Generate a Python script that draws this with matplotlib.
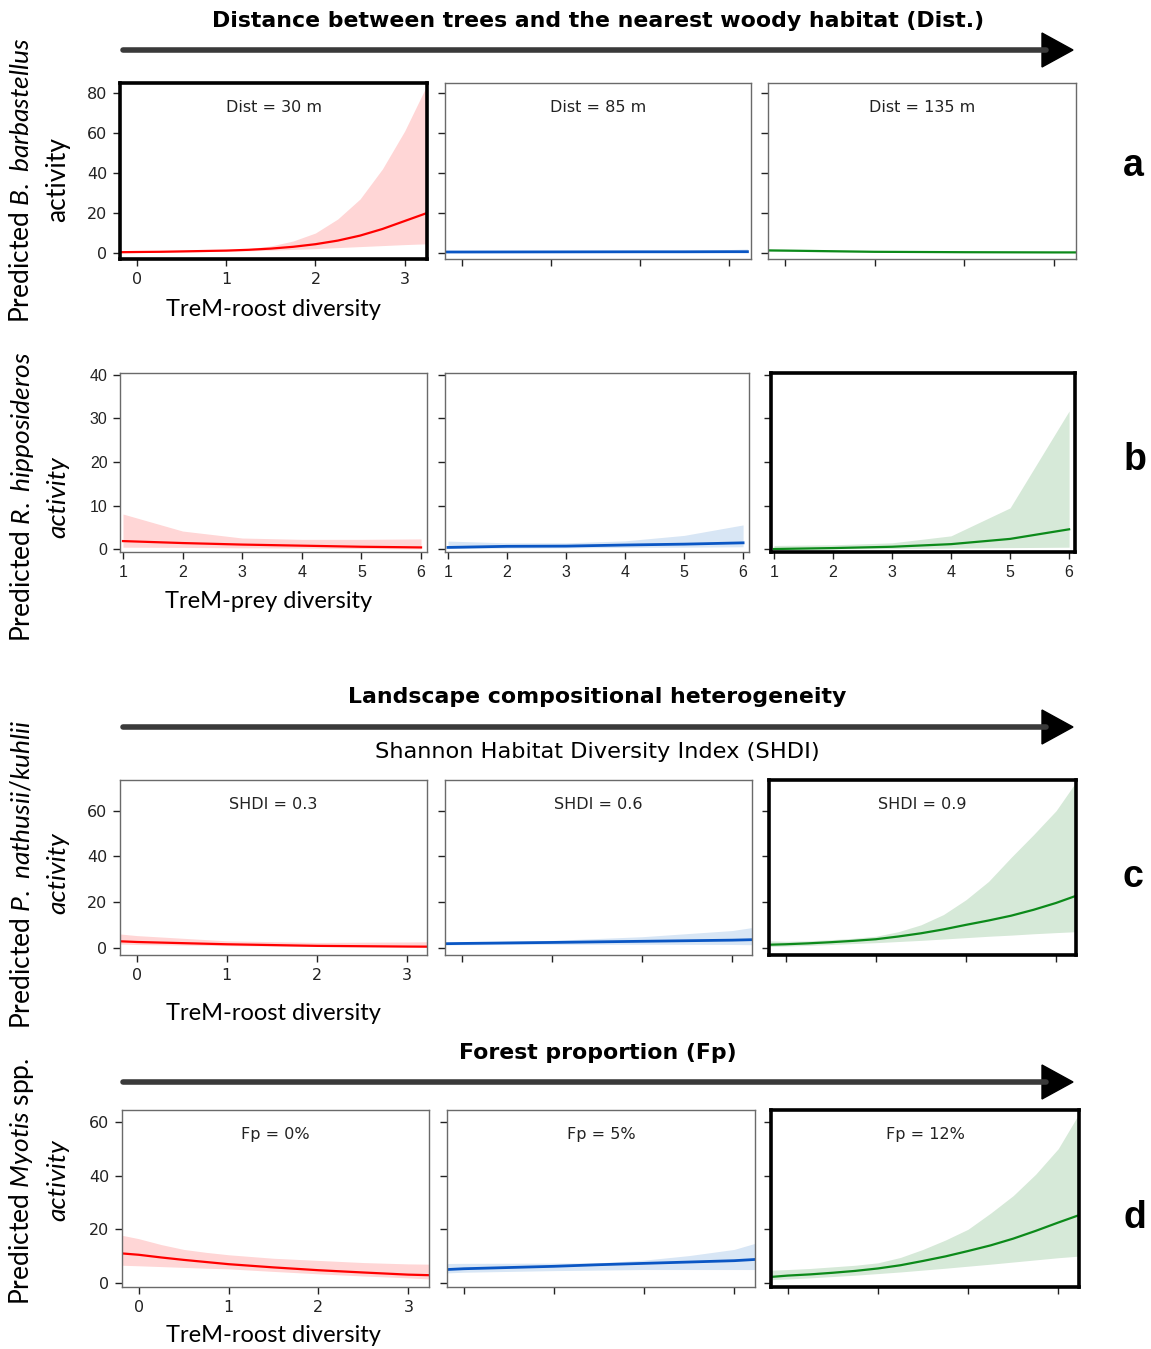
import matplotlib.pyplot as plt
from matplotlib.lines import Line2D
from matplotlib.patches import Polygon

FIG_W, FIG_H = 1151, 1349

plt.rcParams["mathtext.fontset"] = "custom"
plt.rcParams["mathtext.rm"] = "Lato"
plt.rcParams["mathtext.it"] = "Lato:italic"
plt.rcParams["mathtext.bf"] = "Lato:bold"

ROOST_TICKS = [0, 1, 2, 3]
PREY_TICKS = [1, 2, 3, 4, 5, 6]

# Row a: B. barbastellus vs TreM-roost diversity, by distance to woody habitat
A_LABELS = ["Dist = 30 m", "Dist = 85 m", "Dist = 135 m"]
A_YTICKS = [0, 20, 40, 60, 80]
A1_X = [-0.19, 0, 0.25, 0.5, 0.75, 1, 1.25, 1.5, 1.75, 2, 2.25, 2.5, 2.75, 3, 3.25]
A1_FIT = [0.4, 0.5, 0.6, 0.8, 1.0, 1.2, 1.6, 2.2, 3.1, 4.4, 6.2, 8.7, 12.0, 16.0, 20.0]
A1_UP = [0.7, 0.8, 0.9, 1.0, 1.2, 1.5, 2.2, 3.5, 6.0, 10.0, 17.0, 27.0, 42.0, 61.0, 84.0]
A1_LO = [0.1, 0.2, 0.35, 0.5, 0.7, 0.9, 1.1, 1.4, 1.8, 2.2, 2.7, 3.2, 3.7, 4.2, 4.6]
A2_X = [-0.18, 0, 1, 2, 2.5, 3, 3.21]
A2_FIT = [0.5, 0.5, 0.55, 0.6, 0.6, 0.65, 0.65]
A2_UP = [0.7, 0.7, 0.8, 1.0, 1.3, 1.7, 2.0]
A2_LO = [0.35, 0.35, 0.35, 0.3, 0.3, 0.3, 0.3]
A3_X = [-0.19, 0, 0.5, 1, 1.5, 2, 3, 3.25]
A3_FIT = [1.3, 1.2, 0.9, 0.6, 0.5, 0.4, 0.3, 0.3]
A3_UP = [1.8, 1.6, 1.2, 0.9, 0.7, 0.55, 0.45, 0.45]
A3_LO = [0.9, 0.8, 0.6, 0.4, 0.3, 0.2, 0.15, 0.15]

# Row b: R. hipposideros vs TreM-prey diversity
B_YTICKS = [0, 10, 20, 30, 40]
B_X = [1, 2, 3, 4, 5, 6]
B1_FIT = [1.9, 1.45, 1.1, 0.85, 0.6, 0.45]
B1_UP = [8.1, 4.2, 2.6, 2.3, 2.3, 2.4]
B1_LO = [0.5, 0.45, 0.35, 0.3, 0.2, 0.1]
B2_FIT = [0.45, 0.7, 0.75, 1.0, 1.2, 1.5]
B2_UP = [1.9, 1.5, 1.5, 1.95, 3.2, 5.6]
B2_LO = [0.2, 0.3, 0.35, 0.45, 0.5, 0.6]
B3_FIT = [0.08, 0.3, 0.6, 1.2, 2.4, 4.6]
B3_UP = [0.9, 1.05, 1.5, 3.1, 9.5, 31.7]
B3_LO = [0.02, 0.1, 0.2, 0.3, 0.4, 0.5]

# Row c: P. nathusii/kuhlii vs TreM-roost diversity, by SHDI
C_LABELS = ["SHDI = 0.3", "SHDI = 0.6", "SHDI = 0.9"]
C_YTICKS = [0, 20, 40, 60]
C1_X = [-0.185, 0, 1, 2, 3, 3.22]
C1_FIT = [2.8, 2.5, 1.5, 0.8, 0.5, 0.45]
C1_UP = [6.0, 5.3, 3.0, 2.3, 2.5, 2.6]
C1_LO = [1.6, 1.4, 0.9, 0.5, 0.25, 0.2]
C2_X = [-0.185, 0, 1, 2, 3, 3.22]
C2_FIT = [1.75, 1.85, 2.3, 2.8, 3.3, 3.5]
C2_UP = [2.3, 2.4, 3.2, 4.8, 7.5, 8.8]
C2_LO = [1.2, 1.3, 1.5, 1.5, 1.4, 1.3]
C3_X = [-0.185, 0, 0.25, 0.5, 0.75, 1, 1.25, 1.5, 1.75, 2, 2.25, 2.5, 2.75, 3, 3.22]
C3_FIT = [1.3, 1.5, 1.9, 2.4, 3.0, 3.7, 4.9, 6.3, 8.0, 10.0, 11.9, 14.0, 16.6, 19.6, 22.7]
C3_UP = [3.0, 2.8, 3.0, 3.5, 4.1, 5.0, 7.0, 10.0, 14.5, 21.0, 29.0, 39.5, 49.5, 60.0, 72.5]
C3_LO = [0.5, 0.7, 1.0, 1.4, 1.8, 2.2, 2.7, 3.2, 3.8, 4.4, 5.0, 5.5, 6.1, 6.6, 7.0]

# Row d: Myotis spp. vs TreM-roost diversity, by forest proportion
D_LABELS = ["Fp = 0%", "Fp = 5%", "Fp = 12%"]
D_YTICKS = [0, 20, 40, 60]
D1_X = [-0.185, 0, 0.25, 0.5, 0.75, 1, 1.5, 2, 2.5, 3, 3.23]
D1_FIT = [11.0, 10.5, 9.5, 8.6, 7.8, 7.0, 5.8, 4.75, 3.9, 3.1, 2.9]
D1_UP = [17.75, 16.5, 14.3, 12.5, 11.4, 10.5, 9.2, 8.4, 7.6, 7.1, 7.0]
D1_LO = [6.6, 6.4, 6.1, 5.8, 5.5, 5.25, 4.3, 3.4, 2.6, 1.9, 1.5]
D2_X = [-0.185, 0, 1, 1.5, 2, 2.5, 3, 3.23]
D2_FIT = [5.0, 5.3, 6.2, 6.8, 7.3, 7.8, 8.3, 8.75]
D2_UP = [7.25, 7.3, 7.4, 7.5, 8.5, 10.2, 12.5, 14.75]
D2_LO = [3.75, 4.0, 4.6, 4.8, 5.0, 5.0, 5.0, 5.0]
D3_X = [-0.185, 0, 0.25, 0.5, 0.75, 1, 1.25, 1.5, 1.75, 2, 2.25, 2.5, 2.75, 3, 3.23]
D3_FIT = [2.25, 2.75, 3.2, 3.8, 4.5, 5.4, 6.6, 8.2, 9.9, 11.9, 14.0, 16.5, 19.4, 22.5, 25.25]
D3_UP = [4.75, 5.0, 5.4, 6.0, 6.6, 7.5, 9.5, 12.5, 16.0, 20.0, 26.0, 32.5, 40.5, 50.0, 63.0]
D3_LO = [1.25, 1.5, 1.9, 2.4, 2.9, 3.5, 4.1, 4.8, 5.5, 6.25, 7.0, 7.8, 8.6, 9.4, 10.0]

RED = ("#ff0000", "#ffd6d6", 1.6)
BLUE = ("#0a56c4", "#d8e6f5", 2.0)
GREEN = ("#0c8a1a", "#d6e9d8", 1.6)


def px_rect(x0, x1, y0, y1):
    return [x0 / FIG_W, 1 - y1 / FIG_H, (x1 - x0) / FIG_W, (y1 - y0) / FIG_H]


def draw_panel(fig, rect, x, fit, lo, up, colors, xlim, ylim, xticks, yticks,
               bold=False, show_x=True, show_y=True, label=None, tick_family="DejaVu Sans"):
    ax = fig.add_axes(px_rect(*rect))
    ax.fill_between(x, lo, up, color=colors[1], lw=0)
    ax.plot(x, fit, color=colors[0], lw=colors[2])
    ax.set_xlim(*xlim)
    ax.set_ylim(*ylim)
    ax.set_xticks(xticks)
    ax.set_yticks(yticks)
    ax.tick_params(direction="out", length=5, width=1, labelsize=11.5, pad=4,
                   colors="#222222")
    if not show_x:
        ax.set_xticklabels([])
    if not show_y:
        ax.set_yticklabels([])
    for lab in ax.get_xticklabels() + ax.get_yticklabels():
        lab.set_fontfamily(tick_family)
    for sp in ax.spines.values():
        if bold:
            sp.set_linewidth(2.6)
            sp.set_color("black")
        else:
            sp.set_linewidth(1.0)
            sp.set_color("#6a6a6a")
    if label:
        ax.text(0.5, 0.86, label, transform=ax.transAxes, ha="center", va="center",
                fontsize=11.5, family="DejaVu Sans", color="#222222")
    return ax


def draw_arrow(fig, y):
    fig.add_artist(Line2D([123 / FIG_W, 1046 / FIG_W], [1 - y / FIG_H] * 2,
                          transform=fig.transFigure, color="#3a3a3a", lw=4,
                          solid_capstyle="round"))
    head = [[1042, y - 17], [1073, y], [1042, y + 17]]
    fig.add_artist(Polygon([[a / FIG_W, 1 - b / FIG_H] for a, b in head],
                           closed=True, transform=fig.transFigure, color="black"))


def fig_text(fig, x, y, s, **kw):
    fig.text(x / FIG_W, 1 - y / FIG_H, s, ha="center", va="center", **kw)


fig = plt.figure(figsize=(FIG_W / 100, FIG_H / 100), dpi=100)

# Row a
a_cols = [(120, 427), (445, 751), (768, 1076)]
a_data = [(A1_X, A1_FIT, A1_LO, A1_UP, RED), (A2_X, A2_FIT, A2_LO, A2_UP, BLUE),
          (A3_X, A3_FIT, A3_LO, A3_UP, GREEN)]
for i, ((x0, x1), (x, f, lo, up, col)) in enumerate(zip(a_cols, a_data)):
    draw_panel(fig, (x0, x1, 83, 259), x, f, lo, up, col, (-0.19, 3.25), (-3, 85),
               ROOST_TICKS, A_YTICKS, bold=(i == 0), show_x=(i == 0), show_y=(i == 0),
               label=A_LABELS[i])

# Row b
b_cols = [(120, 427), (445, 749), (771, 1075)]
b_data = [(B1_FIT, B1_LO, B1_UP, RED), (B2_FIT, B2_LO, B2_UP, BLUE),
          (B3_FIT, B3_LO, B3_UP, GREEN)]
for i, ((x0, x1), (f, lo, up, col)) in enumerate(zip(b_cols, b_data)):
    draw_panel(fig, (x0, x1, 373, 552), B_X, f, lo, up, col, (0.95, 6.1), (-0.6, 40.4),
               PREY_TICKS, B_YTICKS, bold=(i == 2), show_x=True, show_y=(i == 0),
               tick_family="Liberation Sans")

# Row c
c_cols = [(120, 427), (445, 752), (769, 1076)]
c_data = [(C1_X, C1_FIT, C1_LO, C1_UP, RED), (C2_X, C2_FIT, C2_LO, C2_UP, BLUE),
          (C3_X, C3_FIT, C3_LO, C3_UP, GREEN)]
for i, ((x0, x1), (x, f, lo, up, col)) in enumerate(zip(c_cols, c_data)):
    draw_panel(fig, (x0, x1, 780, 955), x, f, lo, up, col, (-0.185, 3.22), (-3.2, 73.4),
               ROOST_TICKS, C_YTICKS, bold=(i == 2), show_x=(i == 0), show_y=(i == 0),
               label=C_LABELS[i])

# Row d
d_cols = [(122, 429), (447, 755), (771, 1079)]
d_data = [(D1_X, D1_FIT, D1_LO, D1_UP, RED), (D2_X, D2_FIT, D2_LO, D2_UP, BLUE),
          (D3_X, D3_FIT, D3_LO, D3_UP, GREEN)]
for i, ((x0, x1), (x, f, lo, up, col)) in enumerate(zip(d_cols, d_data)):
    draw_panel(fig, (x0, x1, 1110, 1287), x, f, lo, up, col, (-0.185, 3.23), (-1.5, 64.4),
               ROOST_TICKS, D_YTICKS, bold=(i == 2), show_x=(i == 0), show_y=(i == 0),
               label=D_LABELS[i])

# Headings and arrows
title_kw = dict(fontsize=15.8, fontweight="bold", family="DejaVu Sans")
fig_text(fig, 598, 21, "Distance between trees and the nearest woody habitat (Dist.)", **title_kw)
fig_text(fig, 597, 697, "Landscape compositional heterogeneity", **title_kw)
fig_text(fig, 597, 752, "Shannon Habitat Diversity Index (SHDI)", fontsize=16.2, family="DejaVu Sans")
fig_text(fig, 598, 1053, "Forest proportion (Fp)", **title_kw)
draw_arrow(fig, 50)
draw_arrow(fig, 727)
draw_arrow(fig, 1082)

# Y labels
lab_kw = dict(fontsize=19, family="Lato", rotation=90)
fig_text(fig, 22, 180, r"Predicted $\mathit{B.\ barbastellus}$", **lab_kw)
fig_text(fig, 58, 180, "activity", **lab_kw)
fig_text(fig, 22, 497, r"Predicted $\mathit{R.\ hipposideros}$", **lab_kw)
fig_text(fig, 58, 497, "activity", style="italic", **lab_kw)
fig_text(fig, 22, 874, r"Predicted $\mathit{P.\ nathusii/kuhlii}$", **lab_kw)
fig_text(fig, 58, 873, "activity", style="italic", **lab_kw)
fig_text(fig, 22, 1181, r"Predicted $\mathit{Myotis}$ spp.", **lab_kw)
fig_text(fig, 58, 1180, "activity", style="italic", **lab_kw)

# X labels
xl_kw = dict(fontsize=17, family="Lato")
fig_text(fig, 273, 310, "TreM-roost diversity", **xl_kw)
fig_text(fig, 269, 602, "TreM-prey diversity", **xl_kw)
fig_text(fig, 273, 1013, "TreM-roost diversity", **xl_kw)
fig_text(fig, 273, 1336, "TreM-roost diversity", **xl_kw)

# Row letters
let_kw = dict(fontsize=27, fontweight="bold", family="Liberation Sans")
fig_text(fig, 1133, 166, "a", **let_kw)
fig_text(fig, 1135, 460, "b", **let_kw)
fig_text(fig, 1133, 877, "c", **let_kw)
fig_text(fig, 1135, 1218, "d", **let_kw)

fig.savefig("out.png", dpi=100)
plt.close(fig)
